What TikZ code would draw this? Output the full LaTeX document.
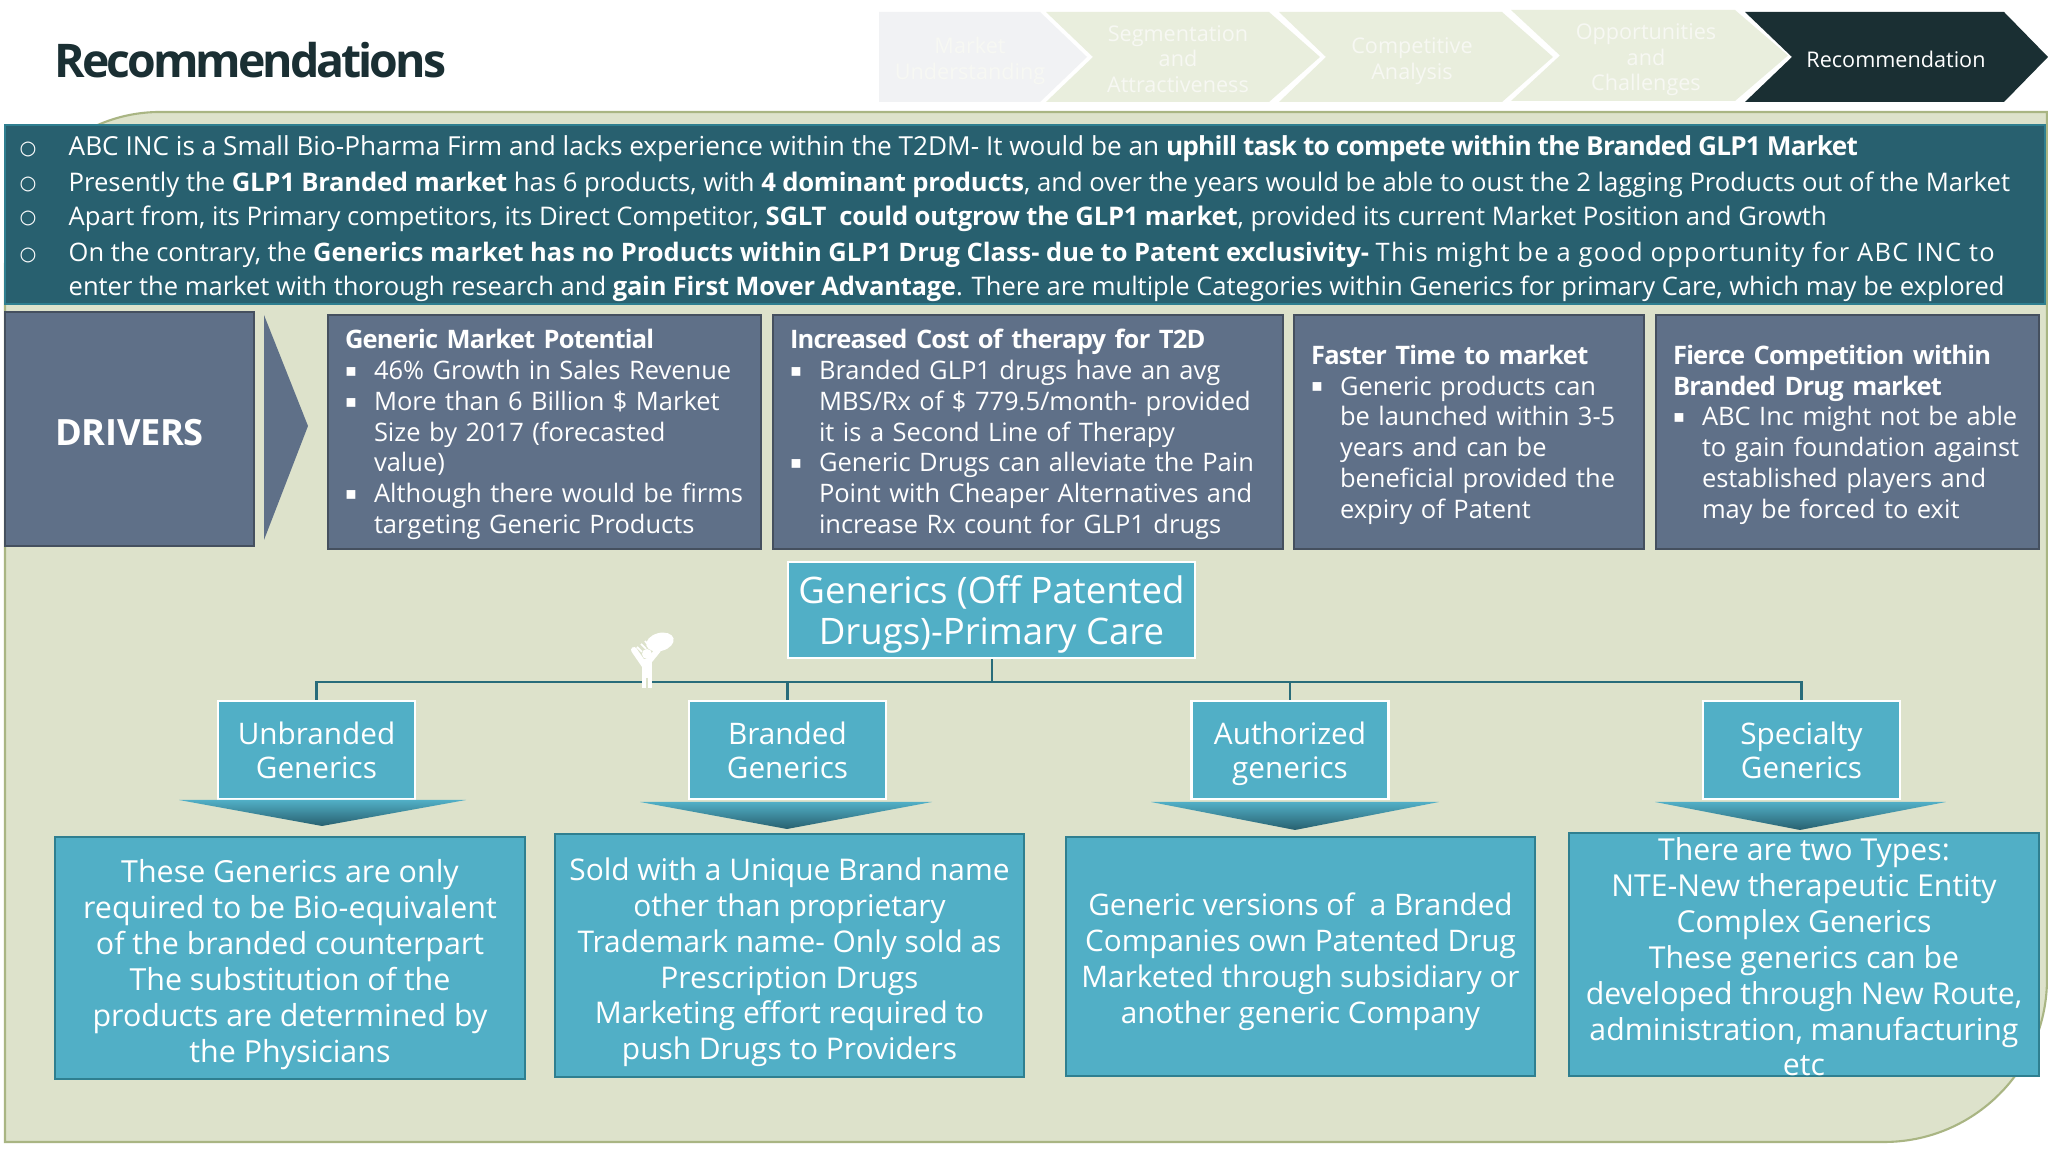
\documentclass[tikz,border=0pt]{standalone}
\usepackage{fontspec}
\setmainfont{Open Sans}
\newfontfamily\symfont{DejaVu Sans}
\usetikzlibrary{positioning}
\definecolor{pagegreen}{HTML}{DDE2CB}
\definecolor{edgegreen}{HTML}{A9B583}
\definecolor{bannerteal}{HTML}{28606F}
\definecolor{slateblue}{HTML}{5F7088}
\definecolor{slateedge}{HTML}{45505F}
\definecolor{aqua}{HTML}{51AFC6}
\definecolor{aquaedge}{HTML}{2F7F90}
\definecolor{inkdark}{HTML}{1A2F33}
\definecolor{stepgrey}{HTML}{F1F2F4}
\definecolor{stepgreen}{HTML}{E9EEDD}
\definecolor{stepink}{HTML}{F7F8F3}
\newcommand{\bd}[1]{{\bfseries\addfontfeature{LetterSpace=-3}#1}}
\newcommand{\bdw}[1]{{\bfseries\addfontfeature{LetterSpace=-1}#1}}
\newcommand{\wdn}[1]{{\addfontfeature{LetterSpace=5}#1}}
\newcommand{\bitem}{\makebox[0.29cm][l]{\raisebox{0.25ex}{\symfont\fontsize{5}{5}\selectfont ▪}}}
\newcommand{\bcont}{\hspace*{0.29cm}}
\newcommand{\dropline}[1]{\rule{0pt}{#1}}
\begin{document}
\begin{tikzpicture}[
		steptext/.style={inner sep=0pt, align=center, text=stepink,
				font=\fontsize{6.15}{7.3}\selectfont},
		bannerline/.style={anchor=west, inner sep=0pt, text=white,
				font=\fontsize{7.3}{9}\selectfont},
		ring/.style={inner sep=0pt, text=white,
				font=\symfont\fontsize{5.5}{6}\selectfont},
		drvbox/.style={draw=slateedge, fill=slateblue, inner sep=0pt, text=white,
				align=left, minimum height=2.34cm, font=\fontsize{7.25}{8.75}\selectfont},
		headbox/.style={draw=white, line width=0.6pt, fill=aqua, inner sep=0pt, text=white,
				align=center},
		tagbox/.style={headbox, minimum width=1.97cm, minimum height=0.98cm,
				font=\fontsize{8.45}{9.7}\selectfont},
		descbox/.style={draw=aquaedge, line width=0.6pt, fill=aqua, inner sep=0pt, text=white,
				align=center},
		link/.style={draw=aquaedge!85!black, line width=0.6pt}]

	\useasboundingbox (0,0) rectangle (20.48,11.52);
	\fill[white] (0,0) rectangle (20.48,11.52);

	% Page panel
	\draw[draw=edgegreen, fill=pagegreen, line width=0.6pt]
	(0.05,8.85) arc (180:90:1.55) -- (20.47,10.40) -- (20.47,1.73)
	arc (0:-90:1.63) -- (0.05,0.10) -- cycle;

	% Title and steps
	\node[anchor=west, inner sep=0pt, text=inkdark] (title) at (0.54,10.92)
	{\fontsize{13.2}{15}\selectfont\bfseries\addfontfeature{LetterSpace=-6.5}Recommendations};

	\fill[stepgrey] (8.79,11.40) -- (10.40,11.40) -- (10.87,10.95) -- (10.40,10.50) -- (8.79,10.50) -- cycle;
	\fill[stepgreen] (10.46,11.40) -- (12.69,11.40) -- (13.20,10.95) -- (12.69,10.50) -- (10.46,10.50) -- (10.93,10.95) -- cycle;
	\fill[stepgreen] (12.79,11.40) -- (15.02,11.40) -- (15.53,10.95) -- (15.02,10.50) -- (12.79,10.50) -- (13.26,10.95) -- cycle;
	\fill[stepgreen] (15.11,11.42) -- (17.35,11.42) -- (17.88,10.965) -- (17.35,10.51) -- (15.11,10.51) -- (15.60,10.965) -- cycle;
	\fill[inkdark] (17.45,11.40) -- (20.04,11.40) -- (20.48,10.95) -- (20.04,10.50) -- (17.45,10.50) -- (17.92,10.95) -- cycle;
	\node[steptext] (stepa) at (9.70,10.91) {Market\\Understanding};
	\node[steptext] (stepb) at (11.78,10.93) {Segmentation\\and\\Attractiveness};
	\node[steptext] (stepc) at (14.12,10.91) {Competitive\\Analysis};
	\node[steptext] (stepd) at (16.46,10.92) {Opportunities\\and\\Challenges};
	\node[steptext, text=white] (stepe) at (18.96,10.93) {Recommendation};

	% Summary banner
	\node[draw=aquaedge, fill=bannerteal, line width=0.6pt, minimum width=20.4cm, minimum height=1.79cm] (banner) at (10.25,9.375) {};
	\node[ring] (ringa) at (0.28,10.03) {○};
	\node[ring] (ringb) at (0.28,9.68) {○};
	\node[ring] (ringc) at (0.28,9.34) {○};
	\node[ring] (ringd) at (0.28,8.97) {○};
	\node[bannerline, font=\fontsize{7.45}{9}\selectfont] (linea) at (0.68,10.034)
	{ABC INC is a Small Bio-Pharma Firm and lacks experience within the T2DM- It would be an \bd{uphill task to compete within the Branded GLP1 Market}};
	\node[bannerline] (lineb) at (0.68,9.674)
	{Presently the \bdw{GLP1 Branded market} has 6 products, with \bdw{4 dominant products}, and over the years would be able to oust the 2 lagging Products out of the Market};
	\node[bannerline] (linec) at (0.68,9.334)
	{Apart from, its Primary competitors, its Direct Competitor, \bdw{SGLT\ \ could outgrow the GLP1 market}, provided its current Market Position and Growth};
	\node[bannerline, font=\fontsize{7.25}{9}\selectfont] (lined) at (0.68,8.974)
	{On the contrary, the \textbf{Generics market has no Products within GLP1 Drug Class- due to Patent exclusivity-} \wdn{This might be a good opportunity for ABC INC to}};
	\node[bannerline, font=\fontsize{7.27}{9}\selectfont] (linee) at (0.68,8.634)
	{enter the market with thorough research and \bdw{gain First Mover Advantage}. There are multiple Categories within Generics for primary Care, which may be explored};

	% Drivers row
	\node[drvbox, align=center, minimum width=2.49cm,
		font=\fontsize{10.3}{11}\selectfont] (drivers) at (1.295,7.23) {\dropline{9.3pt}\bdw{DRIVERS}};
	\fill[slateblue] (2.64,8.37) -- (3.08,7.26) -- (2.64,6.12) -- cycle;
	\node[drvbox, minimum width=4.33cm, text width=3.99cm] (gmp) at (5.445,7.2)
	{\dropline{7pt}\bd{Generic Market Potential}\\
		\bitem 46\% Growth in Sales Revenue\\
		\bitem More than 6 Billion \$ Market\\
		\bcont Size by 2017 (forecasted\\
		\bcont value)\\
		\bitem Although there would be firms\\
		\bcont targeting Generic Products};
	\node[drvbox, minimum width=5.10cm, text width=4.76cm] (cost) at (10.28,7.2)
	{\dropline{7pt}\bd{Increased Cost of therapy for T2D}\\
		\bitem Branded GLP1 drugs have an avg\\
		\bcont MBS/Rx of \$ 779.5/month- provided\\
		\bcont it is a Second Line of Therapy\\
		\bitem Generic Drugs can alleviate the Pain\\
		\bcont Point with Cheaper Alternatives and\\
		\bcont increase Rx count for GLP1 drugs};
	\node[drvbox, minimum width=3.50cm, text width=3.16cm] (faster) at (14.69,7.2)
	{\dropline{7pt}\bd{Faster Time to market}\\
		\bitem Generic products can\\
		\bcont be launched within 3-5\\
		\bcont years and can be\\
		\bcont beneficial provided the\\
		\bcont expiry of Patent};
	\node[drvbox, minimum width=3.83cm, text width=3.49cm] (fierce) at (18.475,7.2)
	{\dropline{7pt}\bd{Fierce Competition within}\\
		\bd{Branded Drug market}\\
		\bitem ABC Inc might not be able\\
		\bcont to gain foundation against\\
		\bcont established players and\\
		\bcont may be forced to exit};

	% Generics tree
	\node[headbox, minimum width=4.07cm, minimum height=0.96cm, font=\fontsize{10.4}{11.7}\selectfont] (generics) at (9.915,5.42)
	{\dropline{10.4pt}Generics (Off Patented\\Drugs)-Primary Care};
	\node[tagbox] (unbr) at (3.165,4.02) {Unbranded\\Generics};
	\node[tagbox] (brnd) at (7.875,4.02) {Branded\\Generics};
	\node[tagbox] (auth) at (12.90,4.02) {\dropline{8.6pt}Authorized\\generics};
	\node[tagbox] (spec) at (18.015,4.02) {Specialty\\Generics};

	\coordinate (bus) at (9.92,4.70);
	\draw[link] (generics.south -| bus) -- (bus);
	\draw[link] (unbr.north) |- (bus);
	\draw[link] (brnd.north) |- (bus);
	\draw[link] (auth.north) |- (bus);
	\draw[link] (spec.north) |- (bus);

	% Pointers under the labels
	\shade[top color=aqua, bottom color=bannerteal] (1.79,3.52) -- (4.66,3.52) -- (3.22,3.26) -- cycle;
	\shade[top color=aqua, bottom color=bannerteal] (6.40,3.50) -- (9.32,3.50) -- (7.87,3.23) -- cycle;
	\shade[top color=aqua, bottom color=bannerteal] (11.51,3.50) -- (14.39,3.50) -- (12.95,3.22) -- cycle;
	\shade[top color=aqua, bottom color=bannerteal] (16.55,3.50) -- (19.46,3.50) -- (18.00,3.22) -- cycle;

	% Descriptions
	\node[descbox, minimum width=4.70cm, minimum height=2.42cm, font=\fontsize{8.65}{10.2}\selectfont] (descu) at (2.90,1.94)
	{\dropline{10.4pt}These Generics are only\\required to be Bio-equivalent\\of the branded counterpart\\The substitution of the\\products are determined by\\the Physicians};
	\node[descbox, minimum width=4.69cm, minimum height=2.43cm, font=\fontsize{8.5}{10.2}\selectfont] (descb) at (7.895,1.965)
	{\dropline{10.4pt}Sold with a Unique Brand name\\other than proprietary\\Trademark name- Only sold as\\Prescription Drugs\\Marketing effort required to\\push Drugs to Providers};
	\node[descbox, minimum width=4.69cm, minimum height=2.39cm, font=\fontsize{8.45}{10.2}\selectfont] (desca) at (13.005,1.955)
	{\dropline{9.4pt}Generic versions of\ \ a Branded\\Companies own Patented Drug\\Marketed through subsidiary or\\another generic Company};
	\node[descbox, minimum width=4.70cm, minimum height=2.43cm, font=\fontsize{8.6}{10.2}\selectfont] (descs) at (18.04,1.975)
	{\dropline{8pt}There are two Types:\\NTE-New therapeutic Entity\\Complex Generics\\These generics can be\\developed through New Route,\\administration, manufacturing\\etc};

	% Person with pill
	\fill[white, rotate around={15:(6.60,5.10)}] (6.60,5.10) ellipse (0.14 and 0.09);
	\fill[white] (6.47,4.98) circle (0.05);
	\draw[white, line width=1.7pt, line cap=round] (6.34,5.02) -- (6.45,4.86) -- (6.58,5.02);
	\fill[white] (6.42,4.93) rectangle (6.52,4.64);
	\draw[pagegreen, line width=0.3pt] (6.47,4.74) -- (6.47,4.64);
	\draw[white, line width=0.5pt] (6.37,5.05) -- (6.42,5.00) (6.41,5.08) -- (6.46,5.03) (6.45,5.11) -- (6.49,5.06);
\end{tikzpicture}
\end{document}
